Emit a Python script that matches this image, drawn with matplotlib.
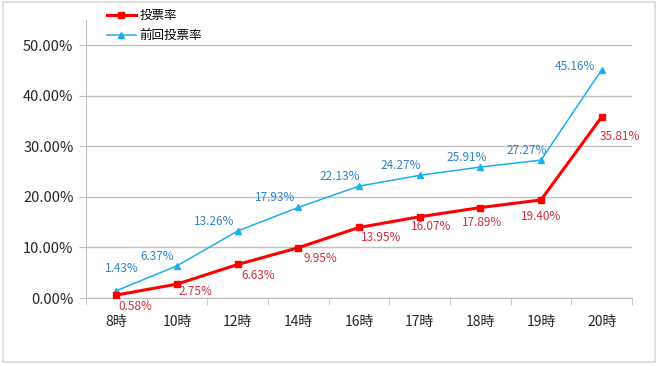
import matplotlib.pyplot as plt
from matplotlib.ticker import PercentFormatter, FixedLocator
import numpy as np

plt.rcParams['font.family'] = ['Noto Sans CJK JP', 'DejaVu Sans']

hours = ["8時", "10時", "12時", "14時", "16時", "17時", "18時", "19時", "20時"]
turnout = [0.58, 2.75, 6.63, 9.95, 13.95, 16.07, 17.89, 19.40, 35.81]
prev_turnout = [1.43, 6.37, 13.26, 17.93, 22.13, 24.27, 25.91, 27.27, 45.16]

# label offsets in points (dx, dy)
red_offsets = [(14, -8), (13, -5), (15, -8), (16, -8), (16, -7), (8, -7), (1, -11), (0, -12), (13, -14)]
blue_offsets = [(4, 16), (-14, 7), (-17, 7), (-17, 7), (-14, 7), (-14, 7), (-10, 7), (-10, 7), (-19, 2)]

red = "#FF0000"
blue = "#1CB0E8"
red_txt = "#D0303A"
blue_txt = "#2E83CC"
gray = "#BFBFBF"

fig = plt.figure(figsize=(6.6, 3.66), dpi=100)
ax = fig.add_axes([86 / 660, 1 - 298 / 366, (632 - 86) / 660, (298 - 20) / 366])

x = np.arange(len(hours))
ax.plot(x, turnout, color=red, lw=2.2, marker="s", ms=5, label="投票率", zorder=4)
ax.plot(x, prev_turnout, color=blue, lw=1.1, marker="^", ms=4.5, label="前回投票率", zorder=3)

for xi, v, (dx, dy) in zip(x, turnout, red_offsets):
    ax.annotate(f"{v:.2f}%", (xi, v), xytext=(dx, dy), textcoords="offset points",
                ha="center", va="center", fontsize=8.5, color=red_txt)
for xi, v, (dx, dy) in zip(x, prev_turnout, blue_offsets):
    ax.annotate(f"{v:.2f}%", (xi, v), xytext=(dx, dy), textcoords="offset points",
                ha="center", va="center", fontsize=8.5, color=blue_txt)

ax.set_xlim(-0.5, len(hours) - 0.5)
ax.set_ylim(0, 55)
ax.set_yticks([0, 10, 20, 30, 40, 50])
ax.yaxis.set_major_formatter(PercentFormatter(decimals=2))
ax.set_xticks(x)
ax.set_xticklabels(hours)
ax.xaxis.set_minor_locator(FixedLocator(np.arange(-0.5, len(hours), 1)))
ax.tick_params(axis="x", which="major", length=0, pad=12, labelsize=10, colors="#262626")
ax.tick_params(axis="x", which="minor", length=5, color=gray)
ax.tick_params(axis="y", length=5, color=gray, labelsize=10.5, labelcolor="#262626", pad=4)

ax.grid(axis="y", color=gray, lw=1)
ax.set_axisbelow(True)
for s in ["top", "right"]:
    ax.spines[s].set_visible(False)
for s in ["left", "bottom"]:
    ax.spines[s].set_color(gray)

fig.legend(loc="upper left", bbox_to_anchor=(102 / 660, 1 - 4 / 366), frameon=False,
           fontsize=9, handlelength=2.3, handletextpad=0.3, labelspacing=0.55,
           borderaxespad=0)

fig.patches.append(plt.Rectangle((3 / 660, 4 / 366), 652 / 660, 360 / 366, transform=fig.transFigure,
                                 fill=False, edgecolor="#D9D9D9", lw=1.2))

fig.savefig("out.png", dpi=100)
